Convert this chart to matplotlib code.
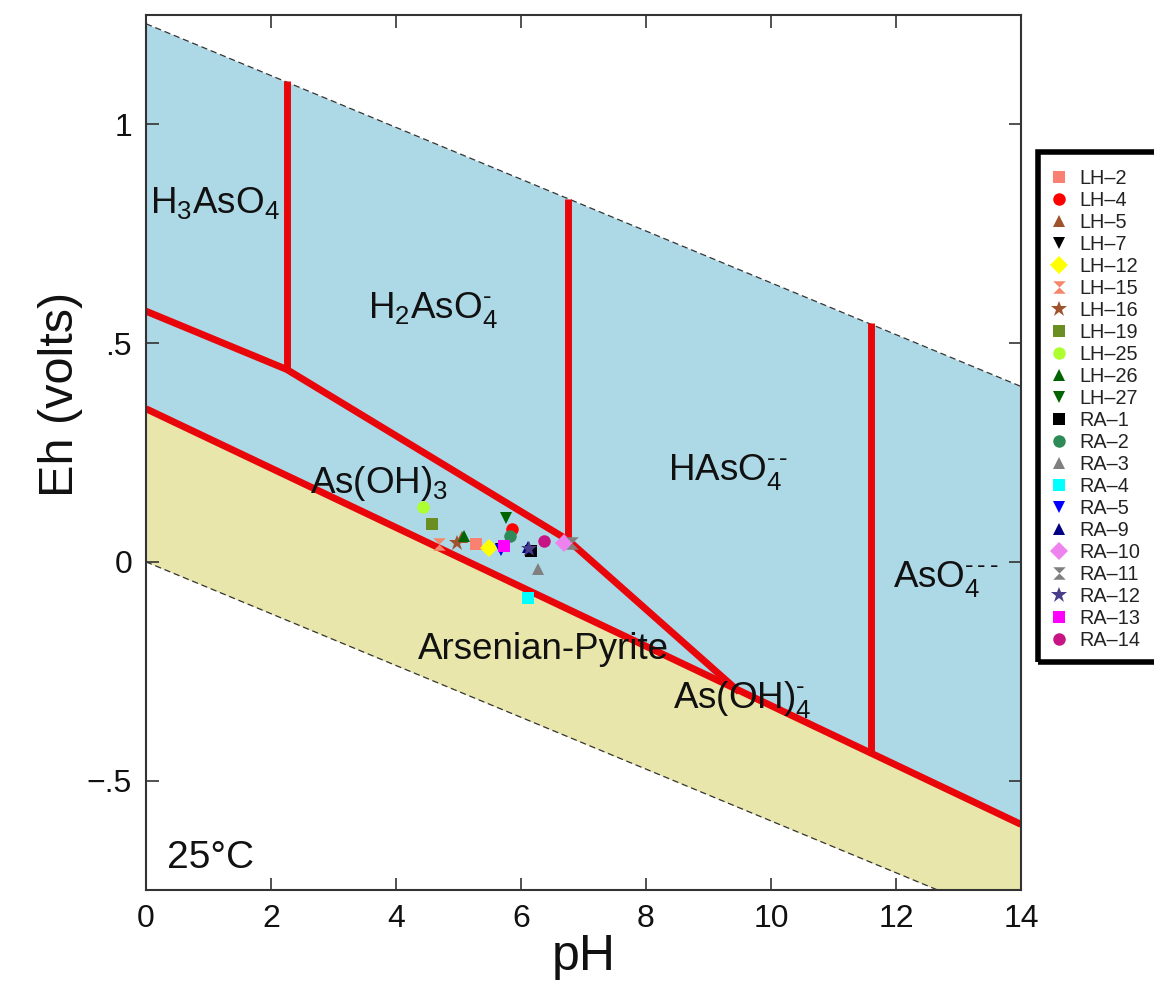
import matplotlib
matplotlib.use("Agg")
import matplotlib.pyplot as plt
import matplotlib.patches as mpatches
import numpy as np

plt.rcParams['font.family'] = ['Liberation Sans', 'DejaVu Sans']
plt.rcParams['mathtext.fontset'] = 'custom'
plt.rcParams['mathtext.rm'] = 'Liberation Sans'
plt.rcParams['mathtext.it'] = 'Liberation Sans'
plt.rcParams['mathtext.default'] = 'rm'

# ---------------- data ----------------
# water stability limits (pH, Eh)
water_upper_ph = [0, 14]
water_upper_eh = [1.23, 0.401]
water_lower_ph = [0, 14]
water_lower_eh = [0.0, -0.829]

# As(V)/As(III) and aqueous/arsenian-pyrite boundaries
pyrite_ph = [0, 14]
pyrite_eh = [0.35, -0.60]
redox_ph = [0, 2.25, 6.75, 9.45]
redox_eh = [0.573, 0.44, 0.05, -0.292]
vert_ph = [2.25, 6.75, 11.6]
vert_top = [1.10, 0.83, 0.545]
vert_bot = [0.44, 0.05, -0.442]

# samples
samples = ['LH\u20132', 'LH\u20134', 'LH\u20135', 'LH\u20137', 'LH\u201312', 'LH\u201315',
           'LH\u201316', 'LH\u201319', 'LH\u201325', 'LH\u201326', 'LH\u201327',
           'RA\u20131', 'RA\u20132', 'RA\u20133', 'RA\u20134', 'RA\u20135', 'RA\u20139',
           'RA\u201310', 'RA\u201311', 'RA\u201312', 'RA\u201313', 'RA\u201314']
sample_ph = [5.28, 5.86, 5.06, 5.68, 5.49, 4.69, 4.98, 4.58, 4.43, 5.09, 5.76,
             6.16, 5.82, 6.27, 6.11, 5.68, 6.11, 6.69, 6.82, 6.12, 5.73, 6.37]
sample_eh = [0.041, 0.076, 0.057, 0.030, 0.032, 0.041, 0.044, 0.087, 0.126, 0.060, 0.101,
             0.025, 0.060, -0.016, -0.083, 0.028, 0.034, 0.044, 0.044, 0.030, 0.037, 0.048]

hourglass = [(-1, 1), (1, 1), (0, 0), (1, -1), (-1, -1), (0, 0), (-1, 1)]
sample_marker = ['s', 'o', '^', 'v', 'D', hourglass, '*', 's', 'o', '^', 'v',
                 's', 'o', '^', 's', 'v', '^', 'D', hourglass, '*', 's', 'o']
sample_color = ['#fa8072', '#ff0000', '#a0522d', '#000000', '#ffff00', '#f4876a',
                '#a0522d', '#6b8e23', '#adff2f', '#006400', '#006400',
                '#000000', '#2e8b57', '#808080', '#00ffff', '#0000ff', '#000080',
                '#ee82ee', '#808080', '#483d8b', '#ff00ff', '#c71585']

# region labels: (text, pH, Eh)
HY = '\u2010'
labels = [
    ('H$_3$AsO$_4$', 0.06, 0.82),
    ('H$_2$AsO$_4^{' + HY + '}$', 3.55, 0.575),
    ('HAsO$_4^{' + HY + '\\,' + HY + '}$', 8.35, 0.205),
    ('AsO$_4^{' + HY + '\\,' + HY + '\\,' + HY + '}$', 11.95, -0.04),
    ('As(OH)$_3$', 2.62, 0.18),
    ('Arsenian-Pyrite', 4.35, -0.20),
    ('As(OH)$_4^{' + HY + '}$', 8.43, -0.315),
]

# ---------------- figure ----------------
W, H = 1154, 986
fig = plt.figure(figsize=(W / 100, H / 100), dpi=100)
ax = fig.add_axes([146 / W, 1 - 890 / H, 875 / W, 875 / H])

ph_grid = np.linspace(0, 14, 200)
up = np.interp(ph_grid, water_upper_ph, water_upper_eh)
lo = np.interp(ph_grid, water_lower_ph, water_lower_eh)
py = np.interp(ph_grid, pyrite_ph, pyrite_eh)
ax.fill_between(ph_grid, py, up, color='#add8e6', lw=0, zorder=1)
ax.fill_between(ph_grid, lo, py, color='#e8e6aa', lw=0, zorder=1)

ax.plot(water_upper_ph, water_upper_eh, ls=(0, (5, 3)), color='#333333', lw=0.9, zorder=2)
ax.plot(water_lower_ph, water_lower_eh, ls=(0, (5, 3)), color='#333333', lw=0.9, zorder=2)

red = '#e8060a'
ax.plot(pyrite_ph, pyrite_eh, color=red, lw=5, zorder=3, solid_capstyle='butt')
ax.plot(redox_ph, redox_eh, color=red, lw=5, zorder=3, solid_joinstyle='miter')
for x, t, b in zip(vert_ph, vert_top, vert_bot):
    ax.plot([x, x], [b, t], color=red, lw=5, zorder=3, solid_capstyle='butt')

handles = []
for name, x, y, m, c in zip(samples, sample_ph, sample_eh, sample_marker, sample_color):
    ms = 12 if m == '*' else 9
    h, = ax.plot([x], [y], ls='none', marker=m, color=c, markersize=ms,
                 markeredgewidth=0, zorder=5, label=name)
    handles.append(h)

for txt, x, y in labels:
    ax.text(x, y, txt, fontsize=26.5, va='center', ha='left', color='#111111', zorder=4)

ax.text(0.33, -0.677, '25\u00b0C', fontsize=28, va='center', ha='left', color='#111111',
        zorder=4, bbox=dict(facecolor='white', edgecolor='none', pad=1))

ax.set_xlim(0, 14)
ax.set_ylim(-0.75, 1.25)
ax.set_xticks([0, 2, 4, 6, 8, 10, 12, 14])
ax.set_xticklabels(['0', '2', '4', '6', '8', '10', '12', '14'])
ax.set_yticks([-0.5, 0, 0.5, 1])
ax.set_yticklabels(['\u2212.5', '0', '.5', '1'])
ax.tick_params(direction='in', length=9, width=1.2, labelsize=23, colors='#333333',
               labelcolor='#111111', top=True, right=True, pad=10)
for s in ax.spines.values():
    s.set_linewidth(1.5)
    s.set_color('#333333')
    s.set_zorder(6)

ax.set_xlabel('pH', fontsize=36, color='#111111', labelpad=0)
ax.set_ylabel('Eh (volts)', fontsize=35, color='#111111')
ax.yaxis.set_label_coords(-0.072, 0.566)

leg = fig.legend(handles=handles, loc='upper left',
                 bbox_to_anchor=(1050 / W, 1 - 169 / H), frameon=False,
                 fontsize=14.3, labelspacing=0.15, handlelength=0.9,
                 handletextpad=0.6, borderaxespad=0, borderpad=0, labelcolor='#222222')
for h in leg.legend_handles:
    h.set_markersize(9 if h.get_marker() != '*' else 12)
fig.patches.append(mpatches.Rectangle((1038 / W, 1 - 662 / H), 0.2, (662 - 152) / H,
                                       transform=fig.transFigure, fill=False,
                                       edgecolor='black', lw=4, zorder=10))

fig.savefig('out.png', dpi=100)
